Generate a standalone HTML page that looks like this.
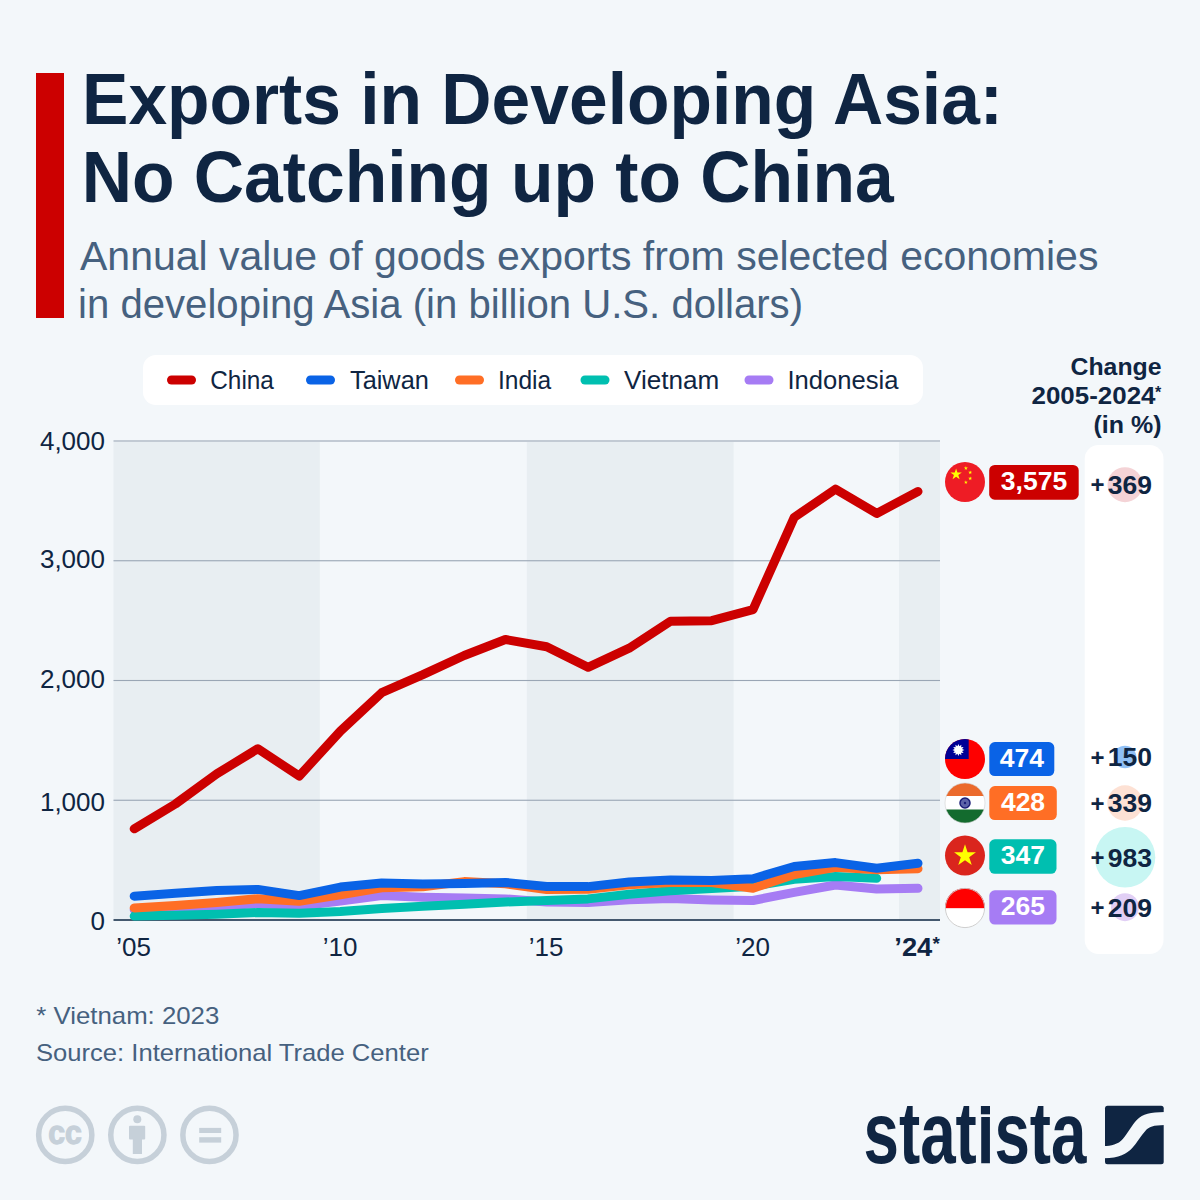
<!DOCTYPE html>
<html><head><meta charset="utf-8"><title>Exports in Developing Asia</title>
<style>
html,body{margin:0;padding:0;background:#f3f7fa;}
body{width:1200px;height:1200px;overflow:hidden;position:relative;}
svg{position:absolute;left:0;top:0;font-family:"Liberation Sans", Arial, sans-serif;}
</style></head><body>
<svg width="1200" height="1200" viewBox="0 0 1200 1200">
<rect width="1200" height="1200" fill="#f3f7fa"/>
<rect x="36" y="73" width="28" height="245" fill="#cc0000"/>
<text x="82" y="124" font-size="72" font-weight="bold" fill="#0f2542" textLength="921" lengthAdjust="spacingAndGlyphs">Exports in Developing Asia:</text>
<text x="81.7" y="202" font-size="72" font-weight="bold" fill="#0f2542" textLength="812" lengthAdjust="spacingAndGlyphs">No Catching up to China</text>
<text x="80" y="270" font-size="41" fill="#46617f" textLength="1018.4" lengthAdjust="spacingAndGlyphs">Annual value of goods exports from selected economies</text>
<text x="78" y="318" font-size="41" fill="#46617f" textLength="725" lengthAdjust="spacingAndGlyphs">in developing Asia (in billion U.S. dollars)</text>

<rect x="143" y="355" width="780" height="50" rx="13" fill="#ffffff"/>
<rect x="167" y="375.5" width="29" height="9" rx="4.5" fill="#cc0000"/>
<text x="210.3" y="389" font-size="25" fill="#0f2542" textLength="63.6" lengthAdjust="spacingAndGlyphs">China</text>
<rect x="306" y="375.5" width="29" height="9" rx="4.5" fill="#0a63e6"/>
<text x="350" y="389" font-size="25" fill="#0f2542" textLength="78.8" lengthAdjust="spacingAndGlyphs">Taiwan</text>
<rect x="455" y="375.5" width="29" height="9" rx="4.5" fill="#ff6e25"/>
<text x="498" y="389" font-size="25" fill="#0f2542" textLength="53.2" lengthAdjust="spacingAndGlyphs">India</text>
<rect x="580.5" y="375.5" width="29" height="9" rx="4.5" fill="#00bfb0"/>
<text x="624" y="389" font-size="25" fill="#0f2542" textLength="95.3" lengthAdjust="spacingAndGlyphs">Vietnam</text>
<rect x="744.5" y="375.5" width="29" height="9" rx="4.5" fill="#a67cf4"/>
<text x="787.4" y="389" font-size="25" fill="#0f2542" textLength="111" lengthAdjust="spacingAndGlyphs">Indonesia</text>

<rect x="113.5" y="442" width="206.3" height="477" fill="#e8eef2"/>
<rect x="526.8" y="442" width="206.8" height="477" fill="#e8eef2"/>
<rect x="899" y="442" width="41.0" height="477" fill="#e8eef2"/>

<rect x="113.5" y="440.45" width="826.5" height="1.1" fill="#9aa6b5"/>
<rect x="113.5" y="560.20" width="826.5" height="1.1" fill="#9aa6b5"/>
<rect x="113.5" y="679.95" width="826.5" height="1.1" fill="#9aa6b5"/>
<rect x="113.5" y="799.70" width="826.5" height="1.1" fill="#9aa6b5"/>
<rect x="113.5" y="919" width="826.5" height="2" fill="#44586e"/>

<text x="105" y="449.5" text-anchor="end" font-size="26" fill="#0f2542">4,000</text>
<text x="105" y="567.7" text-anchor="end" font-size="26" fill="#0f2542">3,000</text>
<text x="105" y="687.7" text-anchor="end" font-size="26" fill="#0f2542">2,000</text>
<text x="105" y="810.5" text-anchor="end" font-size="26" fill="#0f2542">1,000</text>
<text x="105" y="930.2" text-anchor="end" font-size="26" fill="#0f2542">0</text>

<text x="133.5" y="955.8" text-anchor="middle" font-size="26" fill="#0f2542">&#8217;05</text>
<text x="340.2" y="955.8" text-anchor="middle" font-size="26" fill="#0f2542">&#8217;10</text>
<text x="546.2" y="955.8" text-anchor="middle" font-size="26" fill="#0f2542">&#8217;15</text>
<text x="752.6" y="955.8" text-anchor="middle" font-size="26" fill="#0f2542">&#8217;20</text>
<text x="894.3" y="955.8" font-size="26" font-weight="bold" fill="#0f2542" textLength="38" lengthAdjust="spacingAndGlyphs">&#8217;24</text><text x="932.6" y="949.8" font-size="19" font-weight="bold" fill="#0f2542">*</text>

<path d="M134.2,909.7 L175.4,907.9 L216.7,906.3 L257.9,903.6 L299.2,906.0 L340.4,901.1 L381.7,895.6 L422.9,897.2 L464.2,898.1 L505.4,898.9 L546.7,902.0 L588.0,902.6 L629.2,899.8 L670.5,898.4 L711.7,899.9 L753.0,900.5 L794.2,892.3 L835.5,885.0 L876.7,889.0 L918.0,888.3" fill="none" stroke="#a67cf4" stroke-width="9" stroke-linejoin="round" stroke-linecap="round"/>
<path d="M134.2,916.1 L175.4,915.2 L216.7,914.2 L257.9,912.5 L299.2,913.2 L340.4,911.4 L381.7,908.4 L422.9,906.3 L464.2,904.2 L505.4,902.0 L546.7,900.6 L588.0,898.9 L629.2,894.2 L670.5,890.8 L711.7,888.4 L753.0,886.2 L794.2,879.3 L835.5,876.5 L876.7,878.2" fill="none" stroke="#00bfb0" stroke-width="9" stroke-linejoin="round" stroke-linecap="round"/>
<path d="M134.2,908.0 L175.4,905.5 L216.7,902.5 L257.9,898.7 L299.2,901.2 L340.4,894.7 L381.7,887.7 L422.9,886.8 L464.2,881.6 L505.4,883.8 L546.7,889.6 L588.0,889.3 L629.2,884.8 L670.5,882.5 L711.7,882.6 L753.0,888.3 L794.2,874.5 L835.5,867.3 L876.7,869.7 L918.0,868.7" fill="none" stroke="#ff6e25" stroke-width="9" stroke-linejoin="round" stroke-linecap="round"/>
<path d="M134.2,896.2 L175.4,893.2 L216.7,890.5 L257.9,889.4 L299.2,895.6 L340.4,887.1 L381.7,883.1 L422.9,883.9 L464.2,883.4 L505.4,882.4 L546.7,886.4 L588.0,886.6 L629.2,882.0 L670.5,880.0 L711.7,880.6 L753.0,878.7 L794.2,866.5 L835.5,862.6 L876.7,868.2 L918.0,863.2" fill="none" stroke="#0a63e6" stroke-width="9" stroke-linejoin="round" stroke-linecap="round"/>
<path d="M134.2,828.8 L175.4,804.0 L216.7,773.9 L257.9,748.7 L299.2,776.1 L340.4,731.1 L381.7,692.7 L422.9,674.7 L464.2,655.5 L505.4,639.5 L546.7,646.7 L588.0,667.3 L629.2,648.2 L670.5,621.2 L711.7,620.7 L753.0,609.6 L794.2,517.4 L835.5,489.1 L876.7,513.4 L918.0,491.5" fill="none" stroke="#cc0000" stroke-width="9" stroke-linejoin="round" stroke-linecap="round"/>

<circle cx="965" cy="482" r="20" fill="#ee1c25"/><polygon points="956.10,468.40 957.45,472.55 961.81,472.55 958.28,475.11 959.63,479.25 956.10,476.69 952.57,479.25 953.92,475.11 950.39,472.55 954.75,472.55" fill="#ffff00"/><polygon points="965.90,466.10 966.37,467.55 967.90,467.55 966.66,468.45 967.13,469.90 965.90,469.00 964.67,469.90 965.14,468.45 963.90,467.55 965.43,467.55" fill="#ffff00"/><polygon points="970.20,470.40 970.67,471.85 972.20,471.85 970.96,472.75 971.43,474.20 970.20,473.30 968.97,474.20 969.44,472.75 968.20,471.85 969.73,471.85" fill="#ffff00"/><polygon points="970.20,476.40 970.67,477.85 972.20,477.85 970.96,478.75 971.43,480.20 970.20,479.30 968.97,480.20 969.44,478.75 968.20,477.85 969.73,477.85" fill="#ffff00"/><polygon points="965.90,480.20 966.37,481.65 967.90,481.65 966.66,482.55 967.13,484.00 965.90,483.10 964.67,484.00 965.14,482.55 963.90,481.65 965.43,481.65" fill="#ffff00"/>
<clipPath id="cTW"><circle cx="965" cy="759" r="20"/></clipPath><g clip-path="url(#cTW)"><rect x="945" y="739" width="40" height="40" fill="#fe0000"/><rect x="944" y="738" width="24.7" height="21" fill="#000095"/></g><polygon points="958.40,744.00 959.38,746.33 961.40,744.80 961.09,747.31 963.60,747.00 962.07,749.02 964.40,750.00 962.07,750.98 963.60,753.00 961.09,752.69 961.40,755.20 959.38,753.67 958.40,756.00 957.42,753.67 955.40,755.20 955.71,752.69 953.20,753.00 954.73,750.98 952.40,750.00 954.73,749.02 953.20,747.00 955.71,747.31 955.40,744.80 957.42,746.33" fill="#ffffff"/><circle cx="958.4" cy="750" r="3.3" fill="#ffffff"/>
<clipPath id="cIN"><circle cx="965" cy="803" r="20"/></clipPath><g clip-path="url(#cIN)"><rect x="945" y="783" width="40" height="14" fill="#eb6a2c"/><rect x="945" y="796" width="40" height="14" fill="#ffffff"/><rect x="945" y="809.5" width="40" height="14" fill="#136b2e"/></g><circle cx="965" cy="803" r="20" fill="none" stroke="#d0d0d0" stroke-width="0.6"/><circle cx="965" cy="803" r="5" fill="#5d63a8" stroke="#1a1d78" stroke-width="1.5"/><circle cx="965" cy="803" r="1.2" fill="#1a1d78"/>
<circle cx="965" cy="855.6" r="20" fill="#da251d"/><polygon points="965.00,844.30 967.58,852.25 975.94,852.25 969.18,857.16 971.76,865.10 965.00,860.19 958.24,865.10 960.82,857.16 954.06,852.25 962.42,852.25" fill="#ffff00"/>
<clipPath id="cID"><circle cx="965" cy="908" r="20"/></clipPath><g clip-path="url(#cID)"><rect x="945" y="888" width="40" height="20.4" fill="#ff0000"/><rect x="945" y="908.4" width="40" height="20" fill="#ffffff"/></g><circle cx="965" cy="908" r="19.6" fill="none" stroke="#c8c8c8" stroke-width="0.9"/>

<rect x="989.2" y="465" width="89.5" height="34.7" rx="5.5" fill="#cc0000"/><text x="1034.0" y="490.2" text-anchor="middle" font-size="26.5" font-weight="bold" fill="#ffffff">3,575</text>
<rect x="989.3" y="742.1" width="65.0" height="33.9" rx="5.5" fill="#0a63e6"/><text x="1021.8" y="766.8" text-anchor="middle" font-size="26.5" font-weight="bold" fill="#ffffff">474</text>
<rect x="989.3" y="786.1" width="67.5" height="33.9" rx="5.5" fill="#ff6e25"/><text x="1023.0" y="810.8" text-anchor="middle" font-size="26.5" font-weight="bold" fill="#ffffff">428</text>
<rect x="989.3" y="839.3" width="67.2" height="34.5" rx="5.5" fill="#00bfb0"/><text x="1022.9" y="864.3" text-anchor="middle" font-size="26.5" font-weight="bold" fill="#ffffff">347</text>
<rect x="989.3" y="890.3" width="67.2" height="34.2" rx="5.5" fill="#a67cf4"/><text x="1022.9" y="915.2" text-anchor="middle" font-size="26.5" font-weight="bold" fill="#ffffff">265</text>

<rect x="1084.7" y="445" width="78.8" height="509" rx="14" fill="#ffffff"/>
<circle cx="1125" cy="484.7" r="17.5" fill="#f4d3d6"/><text x="1090.6" y="493.3" font-size="24" font-weight="bold" fill="#0f2542">+</text><text x="1152" y="494.0" text-anchor="end" font-size="26.5" font-weight="bold" fill="#0f2542">369</text>
<circle cx="1125" cy="757" r="11.3" fill="#90c0f6"/><text x="1090.6" y="765.6" font-size="24" font-weight="bold" fill="#0f2542">+</text><text x="1152" y="766.3" text-anchor="end" font-size="26.5" font-weight="bold" fill="#0f2542">150</text>
<circle cx="1125" cy="803" r="17.7" fill="#fde1d4"/><text x="1090.6" y="811.6" font-size="24" font-weight="bold" fill="#0f2542">+</text><text x="1152" y="812.3" text-anchor="end" font-size="26.5" font-weight="bold" fill="#0f2542">339</text>
<circle cx="1125" cy="857.3" r="30.3" fill="#c8f6f3"/><text x="1090.6" y="865.9" font-size="24" font-weight="bold" fill="#0f2542">+</text><text x="1152" y="866.6" text-anchor="end" font-size="26.5" font-weight="bold" fill="#0f2542">983</text>
<circle cx="1125" cy="907.2" r="14" fill="#e1cff5"/><text x="1090.6" y="915.8" font-size="24" font-weight="bold" fill="#0f2542">+</text><text x="1152" y="916.5" text-anchor="end" font-size="26.5" font-weight="bold" fill="#0f2542">209</text>
<text x="1070.5" y="374.6" font-size="24" font-weight="bold" fill="#0f2542" textLength="91" lengthAdjust="spacingAndGlyphs">Change</text>
<text x="1031.5" y="403.7" font-size="24" font-weight="bold" fill="#0f2542" textLength="124" lengthAdjust="spacingAndGlyphs">2005-2024</text><text x="1155" y="397.5" font-size="16" font-weight="bold" fill="#0f2542">*</text>
<text x="1093.5" y="433" font-size="24" font-weight="bold" fill="#0f2542" textLength="68" lengthAdjust="spacingAndGlyphs">(in %)</text>

<text x="36.3" y="1023.8" font-size="24" fill="#46617f" textLength="183" lengthAdjust="spacingAndGlyphs">* Vietnam: 2023</text>
<text x="36" y="1061.4" font-size="24" fill="#46617f" textLength="392.7" lengthAdjust="spacingAndGlyphs">Source: International Trade Center</text>
<g fill="none" stroke="#c6d0d9" stroke-width="5.5"><circle cx="65.25" cy="1134.9" r="26.6"/><circle cx="137.35" cy="1134.9" r="26.6"/><circle cx="209.45" cy="1134.9" r="26.6"/></g>
<text x="48.3" y="1143.6" font-size="33" font-weight="bold" fill="#c6d0d9" stroke="#c6d0d9" stroke-width="1.3" textLength="33.6" lengthAdjust="spacingAndGlyphs">cc</text>
<circle cx="137.3" cy="1119.3" r="4" fill="#c6d0d9"/><rect x="129" y="1125.7" width="16.2" height="13.7" rx="1" fill="#c6d0d9"/><rect x="132.8" y="1130" width="9.2" height="24" fill="#c6d0d9"/>
<rect x="199.2" y="1127.9" width="22" height="5.1" fill="#c6d0d9"/><rect x="199.2" y="1137.2" width="22" height="5.4" fill="#c6d0d9"/>
<text x="863.5" y="1162.6" font-size="87" font-weight="bold" fill="#0f2542" textLength="223" lengthAdjust="spacingAndGlyphs">statista</text>
<rect x="979.5" y="1098.5" width="12" height="12" fill="#f3f7fa"/><rect x="980.9" y="1106" width="9.1" height="8.3" fill="#0f2542"/>
<g transform="translate(1105,1105.7)"><rect width="58.7" height="58.6" rx="2.5" fill="#0f2542"/><path d="M-1,40.3 C 6,40 13,39 18,33 C 23,27 27,19 32,14 C 38,8 45,6.5 60,6.2 L60,19.3 C 48,19.5 44,21 40.5,25 C 36,30 32,37 27,42.5 C 22,48 14,52.3 -1,52.5 Z" fill="#f3f7fa"/></g>

</svg>
</body></html>
